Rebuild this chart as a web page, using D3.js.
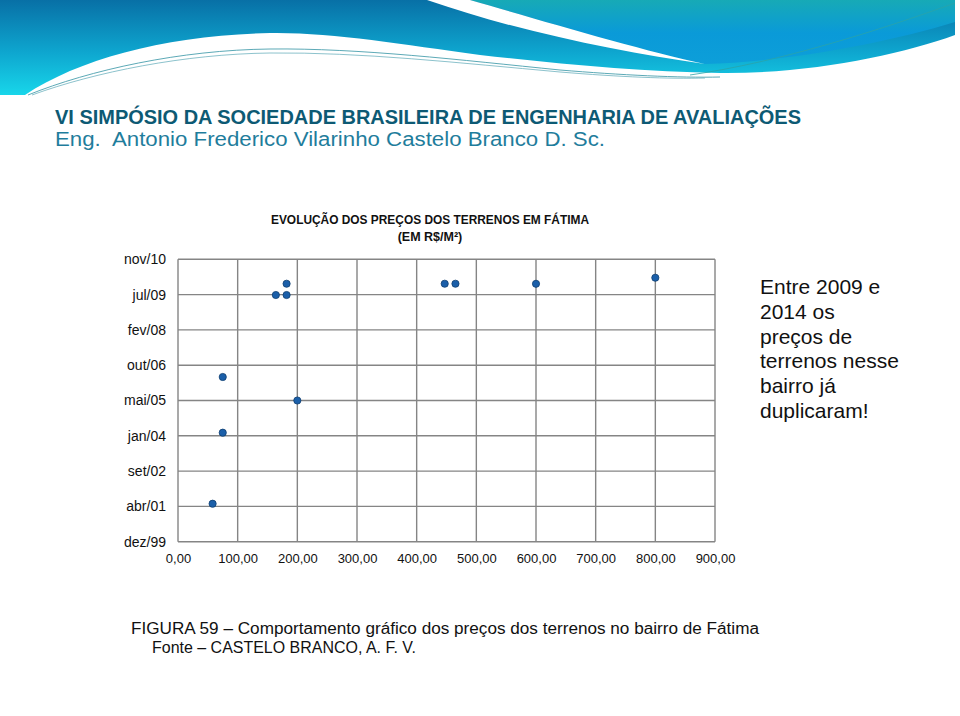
<!DOCTYPE html>
<html><head><meta charset="utf-8">
<script src="https://cdn.jsdelivr.net/npm/d3@7"></script>
<style>
html,body{margin:0;padding:0;background:#fff;}
svg{display:block;}
</style></head>
<body>
<svg id="c" width="960" height="716"></svg>
<script>
// ---- data ----
const prices = [58, 75, 75, 200, 164, 182, 182, 447, 465, 600, 800];
const dates  = ["2001-05-27","2004-02-27","2006-04-26","2005-05-28","2009-06-30","2009-06-30","2009-12-07","2009-12-07","2009-12-07","2009-12-06","2010-03-02"];
const xTickValues = [0,100,200,300,400,500,600,700,800,900];
const yTickDates  = ["1999-12-06","2001-04-19","2002-09-01","2004-01-14","2005-05-28","2006-10-10","2008-02-22","2009-07-06","2010-11-18"];
const yTickLabels = ["dez/99","abr/01","set/02","jan/04","mai/05","out/06","fev/08","jul/09","nov/10"];
const headerTitle = "VI SIMPÓSIO DA SOCIEDADE BRASILEIRA DE ENGENHARIA DE AVALIAÇÕES";
const headerSub = "Eng.  Antonio Frederico Vilarinho Castelo Branco D. Sc.";
const chartTitle = ["EVOLUÇÃO DOS PREÇOS DOS TERRENOS EM FÁTIMA", "(EM R$/M²)"];
const sideNote = ["Entre 2009 e", "2014 os", "preços de", "terrenos nesse", "bairro já", "duplicaram!"];
const caption = ["FIGURA 59 – Comportamento gráfico dos preços dos terrenos no bairro de Fátima", "Fonte – CASTELO BRANCO, A. F. V."];

const parse = d3.utcParse("%Y-%m-%d");
const svg = d3.select("#c");
const FONT = "'Liberation Sans', Arial, sans-serif";

// ---- header decoration ----
const defs = svg.append("defs");
const g1 = defs.append("linearGradient").attr("id","g1").attr("gradientUnits","userSpaceOnUse")
  .attr("x1",0).attr("y1",0).attr("x2",0).attr("y2",95);
g1.append("stop").attr("offset",0).attr("stop-color","#0870a6");
g1.append("stop").attr("offset",0.55).attr("stop-color","#0ea6cf");
g1.append("stop").attr("offset",1).attr("stop-color","#18d6ea");
const g2 = defs.append("linearGradient").attr("id","g2").attr("gradientUnits","userSpaceOnUse")
  .attr("x1",0).attr("y1",0).attr("x2",0).attr("y2",66);
g2.append("stop").attr("offset",0).attr("stop-color","#17aab6");
g2.append("stop").attr("offset",0.5).attr("stop-color","#0a9ad8");
g2.append("stop").attr("offset",1).attr("stop-color","#0d9fd9");

svg.append("path").attr("fill","url(#g1)")
  .attr("d","M0,0 H955 V35 C900,55 810,74 720,73 C640,72 560,64 480,55 C400,44 330,32 270,33 C170,35 80,58 25,95 H0 Z");
svg.append("path").attr("fill","url(#g2)")
  .attr("d","M470,0 H955 V22 C880,45 780,62 705,64 C640,50 540,20 470,0 Z");
svg.append("path").attr("fill","#fff")
  .attr("d","M427,0 H470 C540,20 640,50 705,64 C620,52 520,32 427,0 Z");
svg.append("path").attr("fill","none").attr("stroke","#4a9fae").attr("stroke-width",0.9)
  .attr("d","M28,95 C90,70 180,50 270,49 C360,48 460,60 560,70 C620,75 680,78 720,77");
svg.append("path").attr("fill","none").attr("stroke","#6fb3bf").attr("stroke-width",0.8)
  .attr("d","M32,95 C95,72 185,54 270,53 C360,52 460,63 560,72 C620,77 670,79 705,78");
svg.append("path").attr("fill","none").attr("stroke","#2aa3a8").attr("stroke-width",0.8)
  .attr("d","M690,75 C780,62 880,30 955,3");

svg.append("text").attr("x",55).attr("y",124).attr("fill","#0d5a74")
  .attr("font-family","'Liberation Sans Narrow', 'Liberation Sans', Arial, sans-serif")
  .attr("font-weight","bold").attr("font-size",20)
  .attr("textLength",746).attr("lengthAdjust","spacingAndGlyphs").text(headerTitle);
svg.append("text").attr("x",55).attr("y",146).attr("fill","#1f7d9c")
  .attr("font-family",FONT).attr("font-size",20)
  .attr("textLength",550).attr("lengthAdjust","spacingAndGlyphs")
  .style("white-space","pre").text(headerSub);

// ---- chart ----
const pLeft = 178, pRight = 715, pTop = 259.3, pBottom = 541.7;
const x = d3.scaleLinear().domain([0,900]).range([pLeft,pRight]);
const y = d3.scaleUtc().domain([parse(yTickDates[0]), parse(yTickDates[yTickDates.length-1])]).range([pBottom, pTop]);

// chart title
chartTitle.forEach((t,i)=>{
  const el = svg.append("text").attr("x",430).attr("y",224 + i*17).attr("text-anchor","middle")
    .attr("font-family",FONT).attr("font-weight","bold").attr("font-size",12.5).attr("fill","#111").text(t);
  if(i===0) el.attr("textLength",318).attr("lengthAdjust","spacingAndGlyphs");
});

// grid
const grid = svg.append("g").attr("stroke","#858585").attr("stroke-width",1.4);
grid.selectAll("line.v").data(xTickValues).join("line").attr("class","v")
  .attr("x1",d=>x(d)).attr("x2",d=>x(d)).attr("y1",pTop).attr("y2",pBottom);
grid.selectAll("line.h").data(yTickDates).join("line").attr("class","h")
  .attr("x1",pLeft).attr("x2",pRight).attr("y1",d=>y(parse(d))).attr("y2",d=>y(parse(d)));

// axes
const fmt = d => d.toFixed(2).replace(".", ",");
const xAxis = d3.axisBottom(x).tickValues(xTickValues).tickFormat(fmt).tickSize(0).tickPadding(12);
const gx = svg.append("g").attr("transform",`translate(0,${pBottom})`).call(xAxis);
gx.select(".domain").remove();
gx.selectAll("text").attr("font-family",FONT).attr("font-size",13).attr("fill","#111");

const yAxis = d3.axisLeft(y).tickValues(yTickDates.map(parse))
  .tickFormat((d,i)=>yTickLabels[i]).tickSize(0).tickPadding(12);
const gy = svg.append("g").attr("transform",`translate(${pLeft},0)`).call(yAxis);
gy.select(".domain").remove();
gy.selectAll("text").attr("font-family",FONT).attr("font-size",14).attr("fill","#111");

// points
svg.append("g").selectAll("circle").data(prices.map((p,i)=>({p, d:parse(dates[i])}))).join("circle")
  .attr("cx",d=>x(d.p)).attr("cy",d=>y(d.d)).attr("r",3.6)
  .attr("fill","#1b5fa9").attr("stroke","#0e3d70").attr("stroke-width",0.8);

// side note
sideNote.forEach((t,i)=>{
  svg.append("text").attr("x",760).attr("y",294 + i*24.8)
    .attr("font-family",FONT).attr("font-size",21).attr("fill","#111").text(t);
});

// caption
svg.append("text").attr("x",131).attr("y",634).attr("font-family",FONT).attr("font-size",16).attr("fill","#111")
  .attr("textLength",628).attr("lengthAdjust","spacingAndGlyphs").text(caption[0]);
svg.append("text").attr("x",152).attr("y",653).attr("font-family",FONT).attr("font-size",16).attr("fill","#111")
  .attr("textLength",264).attr("lengthAdjust","spacingAndGlyphs").text(caption[1]);
</script>
</body></html>
